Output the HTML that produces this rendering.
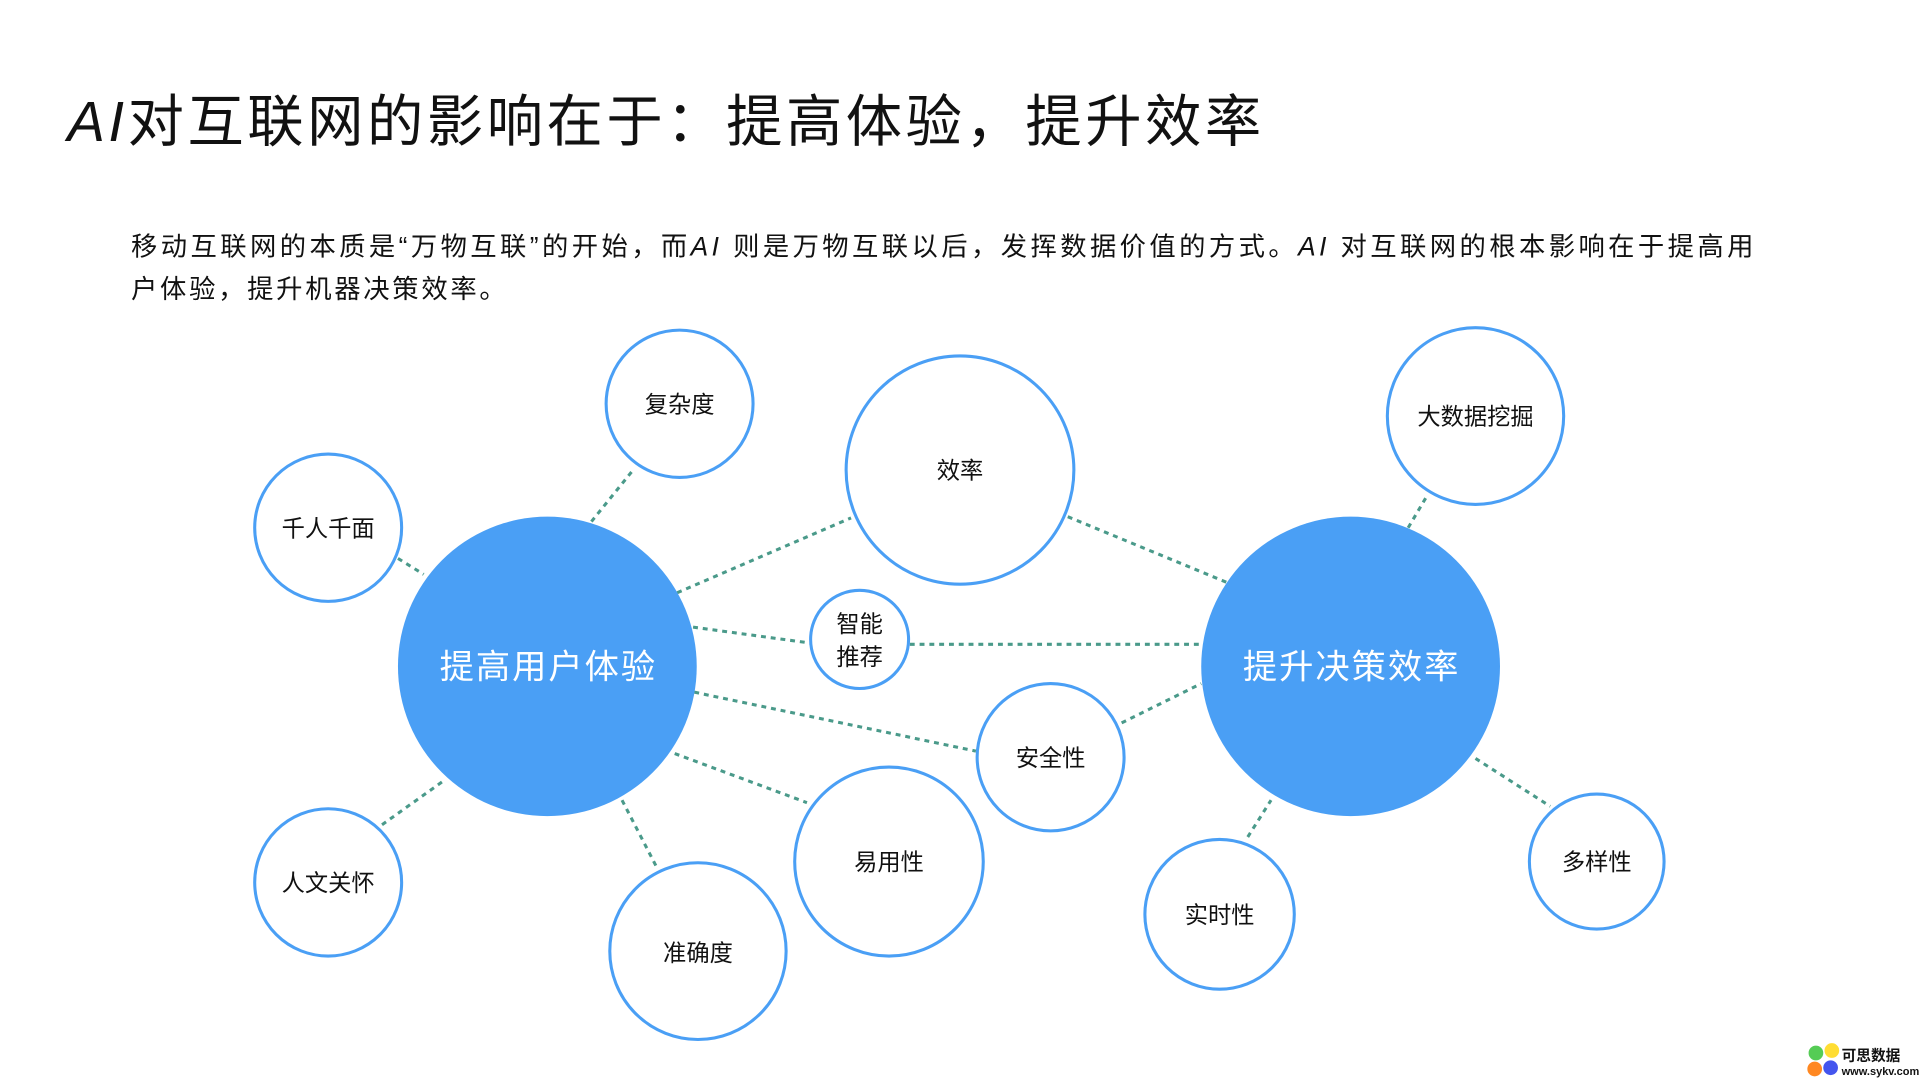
<!DOCTYPE html>
<html><head><meta charset="utf-8"><style>
html,body{margin:0;padding:0;background:#fff;width:1920px;height:1080px;overflow:hidden}
svg{display:block}
text{font-family:"Liberation Sans","Noto Sans CJK SC",sans-serif}
</style></head><body>
<svg width="1920" height="1080" viewBox="0 0 1568 880" preserveAspectRatio="none" xmlns="http://www.w3.org/2000/svg">
<text x="55" y="115" font-size="46" fill="#111" textLength="975" lengthAdjust="spacing"><tspan font-style="italic">AI</tspan>对互联网的影响在于：提高体验，提升效率</text>
<text x="107" y="208" font-size="21.5" fill="#111" textLength="1325" lengthAdjust="spacing">移动互联网的本质是“万物互联”的开始，而<tspan font-style="italic">AI</tspan> 则是万物互联以后，发挥数据价值的方式。<tspan font-style="italic">AI</tspan> 对互联网的根本影响在于提高用</text>
<text x="107" y="243" font-size="21.5" fill="#111" textLength="306" lengthAdjust="spacing">户体验，提升机器决策效率。</text>
<g stroke="#4a9a8a" stroke-width="2.5" stroke-dasharray="4,4" fill="none">
<line x1="483" y1="425" x2="517" y2="383"/>
<line x1="325" y1="455" x2="346" y2="468"/>
<line x1="553" y1="483" x2="695" y2="422"/>
<line x1="566" y1="511" x2="662" y2="524"/>
<line x1="743" y1="525" x2="982" y2="525"/>
<line x1="567" y1="564" x2="797" y2="612"/>
<line x1="551" y1="614" x2="659" y2="654"/>
<line x1="508" y1="652" x2="537" y2="708"/>
<line x1="312" y1="672" x2="364" y2="635"/>
<line x1="872" y1="421" x2="1003" y2="475"/>
<line x1="916" y1="589" x2="981" y2="557"/>
<line x1="1150" y1="430" x2="1166" y2="403"/>
<line x1="1019" y1="682" x2="1038" y2="652"/>
<line x1="1205" y1="618" x2="1266" y2="657"/>
</g>
<g fill="#fff" stroke="#4a9ff5" stroke-width="2.5">
<circle cx="555" cy="329" r="60"/>
<circle cx="784" cy="383" r="93"/>
<circle cx="1205" cy="339" r="72"/>
<circle cx="268" cy="430" r="60"/>
<circle cx="702" cy="521" r="40"/>
<circle cx="858" cy="617" r="60"/>
<circle cx="726" cy="702" r="77"/>
<circle cx="268" cy="719" r="60"/>
<circle cx="570" cy="775" r="72"/>
<circle cx="996" cy="745" r="61"/>
<circle cx="1304" cy="702" r="55"/>
</g>
<circle cx="447" cy="543" r="122" fill="#4a9ff5"/>
<circle cx="1103" cy="543" r="122" fill="#4a9ff5"/>
<g font-size="28" fill="#fff">
<text x="359" y="553" textLength="176" lengthAdjust="spacing">提高用户体验</text>
<text x="1015" y="553" textLength="176" lengthAdjust="spacing">提升决策效率</text>
</g>
<g font-size="19" fill="#111" text-anchor="middle">
<text x="555" y="336">复杂度</text>
<text x="784" y="390">效率</text>
<text x="1205" y="346">大数据挖掘</text>
<text x="268" y="437">千人千面</text>
<text x="702" y="515">智能</text>
<text x="702" y="542">推荐</text>
<text x="858" y="624">安全性</text>
<text x="726" y="709">易用性</text>
<text x="268" y="726">人文关怀</text>
<text x="570" y="783">准确度</text>
<text x="996" y="752">实时性</text>
<text x="1304" y="709">多样性</text>
</g>
<g>
<circle cx="1483" cy="858" r="6" fill="#5c5"/>
<circle cx="1496" cy="856" r="6" fill="#fd3"/>
<circle cx="1482" cy="871" r="6" fill="#f82"/>
<circle cx="1495" cy="870" r="6" fill="#45e"/>
<text x="1504" y="864" font-size="12" font-weight="bold" fill="#111">可思数据</text>
<text x="1504" y="876" font-size="9" font-weight="bold" fill="#111">www.sykv.com</text>
</g>
</svg>
</body></html>
